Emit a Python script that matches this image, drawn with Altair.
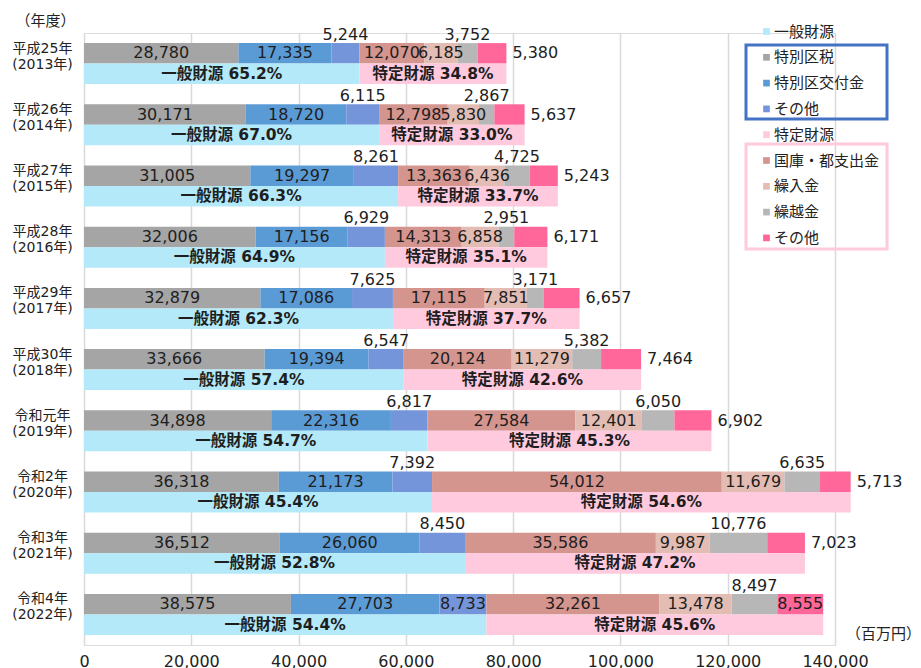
import altair as alt
import pandas as pd

# ---- data ----
years = ["平成25年|(2013年)", "平成26年|(2014年)", "平成27年|(2015年)", "平成28年|(2016年)",
         "平成29年|(2017年)", "平成30年|(2018年)", "令和元年|(2019年)", "令和2年|(2020年)",
         "令和3年|(2021年)", "令和4年|(2022年)"]
tax = [28780, 30171, 31005, 32006, 32879, 33666, 34898, 36318, 36512, 38575]          # 特別区税
grant = [17335, 18720, 19297, 17156, 17086, 19394, 22316, 21173, 26060, 27703]        # 特別区交付金
gen_other = [5244, 6115, 8261, 6929, 7625, 6547, 6817, 7392, 8450, 8733]              # その他（一般）
subsidy = [12070, 12798, 13363, 14313, 17115, 20124, 27584, 54012, 35586, 32261]      # 国庫・都支出金
transfer = [6185, 5830, 6436, 6858, 7851, 11279, 12401, 11679, 9987, 13478]           # 繰入金
carry = [3752, 2867, 4725, 2951, 3171, 5382, 6050, 6635, 10776, 8497]                 # 繰越金
spec_other = [5380, 5637, 5243, 6171, 6657, 7464, 6902, 5713, 7023, 8555]             # その他（特定）
gen_pct = ["65.2%", "67.0%", "66.3%", "64.9%", "62.3%", "57.4%", "54.7%", "45.4%", "52.8%", "54.4%"]
spec_pct = ["34.8%", "33.0%", "33.7%", "35.1%", "37.7%", "42.6%", "45.3%", "54.6%", "47.2%", "45.6%"]
x_ticks = [0, 20000, 40000, 60000, 80000, 100000, 120000, 140000]

cat_domain = ["一般財源", "特別区税", "特別区交付金", "その他（一般）", "特定財源",
              "国庫・都支出金", "繰入金", "繰越金", "その他（特定）"]
cat_colors = ["#b3e9f8", "#a5a5a5", "#5b9bd5", "#7595db", "#ffc9de",
              "#d5958f", "#e3bdb3", "#b7b7b7", "#ff6699"]

FONT = "DejaVu Sans, Noto Sans CJK JP"
JP = "Noto Sans CJK JP"

# ---- build tables ----
seg_rows = []
lab_rows = []
for i, y in enumerate(years):
    series = [("特別区税", tax[i]), ("特別区交付金", grant[i]), ("その他（一般）", gen_other[i]),
              ("国庫・都支出金", subsidy[i]), ("繰入金", transfer[i]), ("繰越金", carry[i]),
              ("その他（特定）", spec_other[i])]
    acc = 0
    for cat, v in series:
        s, e = acc, acc + v
        acc = e
        seg_rows.append(dict(year=y, row="upper", cat=cat, start=s, end=e))
        if cat == "繰越金":
            place = "above"
        elif cat == "その他（一般）":
            place = "in" if v >= 8600 else "above"
        elif cat == "その他（特定）":
            place = "in" if v >= 8500 else "right"
        else:
            place = "in"
        lab_rows.append(dict(year=y, row="upper", mid=(s + e) / 2, end=e,
                             text=f"{v:,}", place=place))
    g = tax[i] + grant[i] + gen_other[i]
    sp = subsidy[i] + transfer[i] + carry[i] + spec_other[i]
    seg_rows.append(dict(year=y, row="lower", cat="一般財源", start=0, end=g))
    seg_rows.append(dict(year=y, row="lower", cat="特定財源", start=g, end=g + sp))
    lab_rows.append(dict(year=y, row="lower", mid=g / 2, end=g,
                         text=f"一般財源 {gen_pct[i]}", place="low"))
    sp_txt = f"特定財源  {spec_pct[i]}" if i == 8 else f"特定財源 {spec_pct[i]}"
    lab_rows.append(dict(year=y, row="lower", mid=g + sp / 2, end=g + sp,
                         text=sp_txt, place="low"))

seg_df = pd.DataFrame(seg_rows)
lab_df = pd.DataFrame(lab_rows)

y_axis = alt.Axis(title="（年度）", titleAngle=0, titleX=-39, titleY=-13,
                  titleAlign="center", titleBaseline="middle",
                  titleFontSize=15, titleFontWeight="normal", titleColor="#222",
                  titleFont=JP,
                  labelExpr="split(datum.value, '|')",
                  labelAlign="center", labelBaseline="middle",
                  labelPadding=42, labelOffset=-15, labelLineHeight=16,
                  labelFontSize=14, labelFont=FONT, labelColor="#222",
                  ticks=False, tickSize=0, domain=False, grid=False)
x_axis = alt.Axis(values=x_ticks, format=",d", labelFontSize=16, labelFont=FONT,
                  labelColor="#222", labelPadding=8, labelFlush=False,
                  ticks=False, domain=False,
                  grid=True, gridColor="#d9d9d9", gridWidth=1.5,
                  title="（百万円）", titleX=799, titleY=-12, titleAlign="center",
                  titleBaseline="middle", titleFontSize=15, titleFontWeight="normal",
                  titleFont=JP, titleColor="#222")
y_scale = alt.Scale(paddingInner=0.33, paddingOuter=0.165)
x_scale = alt.Scale(domain=[0, 140000], nice=False)
yoff = alt.YOffset("row:N", sort=["upper", "lower"],
                   scale=alt.Scale(paddingInner=0, paddingOuter=0))


def yenc():
    return alt.Y("year:N", sort=years, scale=y_scale, axis=y_axis)


def xenc(field):
    return alt.X(f"{field}:Q", scale=x_scale, axis=x_axis)


bars = alt.Chart(seg_df).mark_bar(stroke=None).encode(
    x=xenc("start"),
    x2="end:Q",
    y=yenc(),
    yOffset=yoff,
    color=alt.Color("cat:N", scale=alt.Scale(domain=cat_domain, range=cat_colors),
                    legend=alt.Legend(title=None, orient="none", legendX=675, legendY=-9,
                                      symbolType="square", symbolSize=45,
                                      symbolStrokeWidth=0, labelFontSize=15,
                                      labelFont=JP, labelColor="#222",
                                      labelOffset=0, rowPadding=9.8,
                                      labelExpr="indexof(datum.label, 'その他') == 0 ? 'その他' : datum.label")),
)

txt_in = alt.Chart(lab_df).transform_filter("datum.place == 'in'").mark_text(
    fontSize=16, font=FONT, color="#1e1e1e").encode(
    x=xenc("mid"), y=yenc(), yOffset=yoff, text="text:N")

txt_above = alt.Chart(lab_df).transform_filter("datum.place == 'above'").mark_text(
    fontSize=16, font=FONT, color="#1e1e1e", dy=-18.5).encode(
    x=xenc("mid"), y=yenc(), yOffset=yoff, text="text:N")

txt_right = alt.Chart(lab_df).transform_filter("datum.place == 'right'").mark_text(
    fontSize=16, font=FONT, color="#1e1e1e", align="left", dx=6).encode(
    x=xenc("end"), y=yenc(), yOffset=yoff, text="text:N")

txt_low = alt.Chart(lab_df).transform_filter("datum.place == 'low'").mark_text(
    fontSize=15.5, font=FONT, fontWeight="bold", color="#1e1e1e").encode(
    x=xenc("mid"), y=yenc(), yOffset=yoff, text="text:N")

box_df = pd.DataFrame({"k": [0]})
box_blue = alt.Chart(box_df).mark_rect(fill="transparent", stroke="#4472c4", strokeWidth=3).encode(
    x=alt.value(662), x2=alt.value(803), y=alt.value(12), y2=alt.value(86))
box_pink = alt.Chart(box_df).mark_rect(fill="transparent", stroke="#ffc9de", strokeWidth=3).encode(
    x=alt.value(662), x2=alt.value(803), y=alt.value(111), y2=alt.value(216))

chart = alt.layer(bars, txt_in, txt_above, txt_right, txt_low, box_blue, box_pink).properties(
    width=751, height=612,
    autosize=alt.AutoSizeParams(type="none"),
    padding={"left": 76, "top": 25, "right": 78, "bottom": 40},
).configure_view(stroke=None).configure(background="white")

chart.save("out.html", embed_options={"renderer": "svg", "actions": False})
